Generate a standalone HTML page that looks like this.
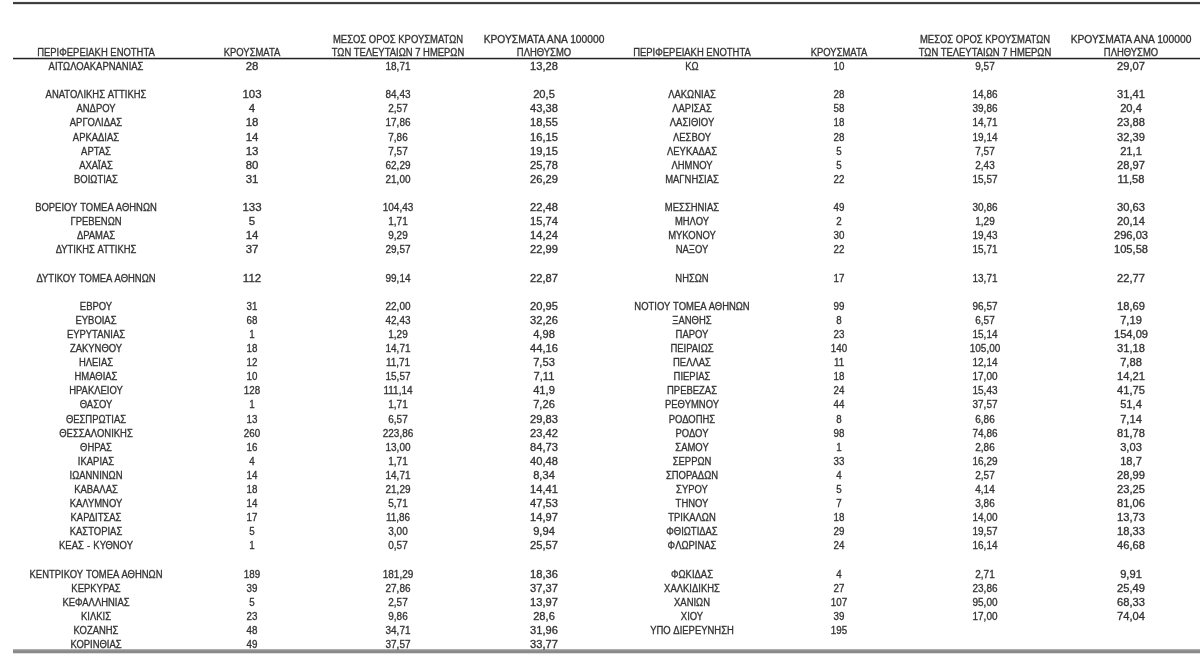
<!DOCTYPE html>
<html><head><meta charset="utf-8"><style>
html,body{margin:0;padding:0;background:#fff;}
#w{position:absolute;left:0;top:0;width:1200px;height:668px;filter:grayscale(1);}
body{width:1200px;height:668px;position:relative;overflow:hidden;font-family:"Liberation Sans",sans-serif;}
.c{position:absolute;white-space:nowrap;font-size:10.0px;line-height:12px;height:12px;color:#333;-webkit-text-stroke:0.3px #333;transform:translateX(-50%) scaleX(0.945);transform-origin:50% 0;}
.n4{transform:translateX(-50%) scaleX(1.113);}
.n3{transform:translateX(-50%) scaleX(0.9975);}
.n2a{transform:translateX(-50%) scaleX(1.1445);}
.n2c{transform:translateX(-50%) scaleX(0.9765);}
.h4{transform:translateX(-50%) scaleX(1.025);}
.nm{word-spacing:0.6px;}
.ln{position:absolute;}
</style></head><body><div id="w">
<div class="ln" style="left:13px;top:1px;width:1187px;height:4px;background:linear-gradient(#f0f0f0 0,#f0f0f0 1px,#454545 1px,#454545 2px,#3a3a3a 2px,#3a3a3a 3px,#e0e0e0 3px)"></div>
<div class="ln" style="left:13px;top:57px;width:1187px;height:3px;background:linear-gradient(#d0d0d0 0,#d0d0d0 1px,#222 1px,#222 2px,#c0c0c0 2px)"></div>
<div class="ln" style="left:13px;top:649px;width:1187px;height:5px;background:linear-gradient(#adadad 0,#adadad 1px,#949494 1px,#949494 2px,#888 2px,#888 3px,#8c8c8c 3px,#8c8c8c 4px,#dcdcdc 4px)"></div>
<div class="c nm" style="left:96.30px;top:61.05px">ΑΙΤΩΛΟΑΚΑΡΝΑΝΙΑΣ</div>
<div class="c n2a" style="left:252.40px;top:61.05px">28</div>
<div class="c n3" style="left:398.10px;top:61.05px">18,71</div>
<div class="c n4" style="left:544.00px;top:61.05px">13,28</div>
<div class="c nm" style="left:96.30px;top:89.25px">ΑΝΑΤΟΛΙΚΗΣ ΑΤΤΙΚΗΣ</div>
<div class="c n2a" style="left:252.40px;top:89.25px">103</div>
<div class="c n3" style="left:398.10px;top:89.25px">84,43</div>
<div class="c n4" style="left:544.00px;top:89.25px">20,5</div>
<div class="c nm" style="left:96.30px;top:103.35px">ΑΝΔΡΟΥ</div>
<div class="c n2a" style="left:252.40px;top:103.35px">4</div>
<div class="c n3" style="left:398.10px;top:103.35px">2,57</div>
<div class="c n4" style="left:544.00px;top:103.35px">43,38</div>
<div class="c nm" style="left:96.30px;top:117.45px">ΑΡΓΟΛΙΔΑΣ</div>
<div class="c n2a" style="left:252.40px;top:117.45px">18</div>
<div class="c n3" style="left:398.10px;top:117.45px">17,86</div>
<div class="c n4" style="left:544.00px;top:117.45px">18,55</div>
<div class="c nm" style="left:96.30px;top:131.55px">ΑΡΚΑΔΙΑΣ</div>
<div class="c n2a" style="left:252.40px;top:131.55px">14</div>
<div class="c n3" style="left:398.10px;top:131.55px">7,86</div>
<div class="c n4" style="left:544.00px;top:131.55px">16,15</div>
<div class="c nm" style="left:96.30px;top:145.65px">ΑΡΤΑΣ</div>
<div class="c n2a" style="left:252.40px;top:145.65px">13</div>
<div class="c n3" style="left:398.10px;top:145.65px">7,57</div>
<div class="c n4" style="left:544.00px;top:145.65px">19,15</div>
<div class="c nm" style="left:96.30px;top:159.75px">ΑΧΑΪΑΣ</div>
<div class="c n2a" style="left:252.40px;top:159.75px">80</div>
<div class="c n3" style="left:398.10px;top:159.75px">62,29</div>
<div class="c n4" style="left:544.00px;top:159.75px">25,78</div>
<div class="c nm" style="left:96.30px;top:173.85px">ΒΟΙΩΤΙΑΣ</div>
<div class="c n2a" style="left:252.40px;top:173.85px">31</div>
<div class="c n3" style="left:398.10px;top:173.85px">21,00</div>
<div class="c n4" style="left:544.00px;top:173.85px">26,29</div>
<div class="c nm" style="left:96.30px;top:202.05px">ΒΟΡΕΙΟΥ ΤΟΜΕΑ ΑΘΗΝΩΝ</div>
<div class="c n2a" style="left:252.40px;top:202.05px">133</div>
<div class="c n3" style="left:398.10px;top:202.05px">104,43</div>
<div class="c n4" style="left:544.00px;top:202.05px">22,48</div>
<div class="c nm" style="left:96.30px;top:216.15px">ΓΡΕΒΕΝΩΝ</div>
<div class="c n2a" style="left:252.40px;top:216.15px">5</div>
<div class="c n3" style="left:398.10px;top:216.15px">1,71</div>
<div class="c n4" style="left:544.00px;top:216.15px">15,74</div>
<div class="c nm" style="left:96.30px;top:230.25px">ΔΡΑΜΑΣ</div>
<div class="c n2a" style="left:252.40px;top:230.25px">14</div>
<div class="c n3" style="left:398.10px;top:230.25px">9,29</div>
<div class="c n4" style="left:544.00px;top:230.25px">14,24</div>
<div class="c nm" style="left:96.30px;top:244.35px">ΔΥΤΙΚΗΣ ΑΤΤΙΚΗΣ</div>
<div class="c n2a" style="left:252.40px;top:244.35px">37</div>
<div class="c n3" style="left:398.10px;top:244.35px">29,57</div>
<div class="c n4" style="left:544.00px;top:244.35px">22,99</div>
<div class="c nm" style="left:96.30px;top:272.55px">ΔΥΤΙΚΟΥ ΤΟΜΕΑ ΑΘΗΝΩΝ</div>
<div class="c n2a" style="left:252.40px;top:272.55px">112</div>
<div class="c n3" style="left:398.10px;top:272.55px">99,14</div>
<div class="c n4" style="left:544.00px;top:272.55px">22,87</div>
<div class="c nm" style="left:96.30px;top:300.75px">ΕΒΡΟΥ</div>
<div class="c n2c" style="left:252.40px;top:300.75px">31</div>
<div class="c n3" style="left:398.10px;top:300.75px">22,00</div>
<div class="c n4" style="left:544.00px;top:300.75px">20,95</div>
<div class="c nm" style="left:96.30px;top:314.85px">ΕΥΒΟΙΑΣ</div>
<div class="c n2c" style="left:252.40px;top:314.85px">68</div>
<div class="c n3" style="left:398.10px;top:314.85px">42,43</div>
<div class="c n4" style="left:544.00px;top:314.85px">32,26</div>
<div class="c nm" style="left:96.30px;top:328.95px">ΕΥΡΥΤΑΝΙΑΣ</div>
<div class="c n2c" style="left:252.40px;top:328.95px">1</div>
<div class="c n3" style="left:398.10px;top:328.95px">1,29</div>
<div class="c n4" style="left:544.00px;top:328.95px">4,98</div>
<div class="c nm" style="left:96.30px;top:343.05px">ΖΑΚΥΝΘΟΥ</div>
<div class="c n2c" style="left:252.40px;top:343.05px">18</div>
<div class="c n3" style="left:398.10px;top:343.05px">14,71</div>
<div class="c n4" style="left:544.00px;top:343.05px">44,16</div>
<div class="c nm" style="left:96.30px;top:357.15px">ΗΛΕΙΑΣ</div>
<div class="c n2c" style="left:252.40px;top:357.15px">12</div>
<div class="c n3" style="left:398.10px;top:357.15px">11,71</div>
<div class="c n4" style="left:544.00px;top:357.15px">7,53</div>
<div class="c nm" style="left:96.30px;top:371.25px">ΗΜΑΘΙΑΣ</div>
<div class="c n2c" style="left:252.40px;top:371.25px">10</div>
<div class="c n3" style="left:398.10px;top:371.25px">15,57</div>
<div class="c n4" style="left:544.00px;top:371.25px">7,11</div>
<div class="c nm" style="left:96.30px;top:385.35px">ΗΡΑΚΛΕΙΟΥ</div>
<div class="c n2c" style="left:252.40px;top:385.35px">128</div>
<div class="c n3" style="left:398.10px;top:385.35px">111,14</div>
<div class="c n4" style="left:544.00px;top:385.35px">41,9</div>
<div class="c nm" style="left:96.30px;top:399.45px">ΘΑΣΟΥ</div>
<div class="c n2c" style="left:252.40px;top:399.45px">1</div>
<div class="c n3" style="left:398.10px;top:399.45px">1,71</div>
<div class="c n4" style="left:544.00px;top:399.45px">7,26</div>
<div class="c nm" style="left:96.30px;top:413.55px">ΘΕΣΠΡΩΤΙΑΣ</div>
<div class="c n2c" style="left:252.40px;top:413.55px">13</div>
<div class="c n3" style="left:398.10px;top:413.55px">6,57</div>
<div class="c n4" style="left:544.00px;top:413.55px">29,83</div>
<div class="c nm" style="left:96.30px;top:427.65px">ΘΕΣΣΑΛΟΝΙΚΗΣ</div>
<div class="c n2c" style="left:252.40px;top:427.65px">260</div>
<div class="c n3" style="left:398.10px;top:427.65px">223,86</div>
<div class="c n4" style="left:544.00px;top:427.65px">23,42</div>
<div class="c nm" style="left:96.30px;top:441.75px">ΘΗΡΑΣ</div>
<div class="c n2c" style="left:252.40px;top:441.75px">16</div>
<div class="c n3" style="left:398.10px;top:441.75px">13,00</div>
<div class="c n4" style="left:544.00px;top:441.75px">84,73</div>
<div class="c nm" style="left:96.30px;top:455.85px">ΙΚΑΡΙΑΣ</div>
<div class="c n2c" style="left:252.40px;top:455.85px">4</div>
<div class="c n3" style="left:398.10px;top:455.85px">1,71</div>
<div class="c n4" style="left:544.00px;top:455.85px">40,48</div>
<div class="c nm" style="left:96.30px;top:469.95px">ΙΩΑΝΝΙΝΩΝ</div>
<div class="c n2c" style="left:252.40px;top:469.95px">14</div>
<div class="c n3" style="left:398.10px;top:469.95px">14,71</div>
<div class="c n4" style="left:544.00px;top:469.95px">8,34</div>
<div class="c nm" style="left:96.30px;top:484.05px">ΚΑΒΑΛΑΣ</div>
<div class="c n2c" style="left:252.40px;top:484.05px">18</div>
<div class="c n3" style="left:398.10px;top:484.05px">21,29</div>
<div class="c n4" style="left:544.00px;top:484.05px">14,41</div>
<div class="c nm" style="left:96.30px;top:498.15px">ΚΑΛΥΜΝΟΥ</div>
<div class="c n2c" style="left:252.40px;top:498.15px">14</div>
<div class="c n3" style="left:398.10px;top:498.15px">5,71</div>
<div class="c n4" style="left:544.00px;top:498.15px">47,53</div>
<div class="c nm" style="left:96.30px;top:512.25px">ΚΑΡΔΙΤΣΑΣ</div>
<div class="c n2c" style="left:252.40px;top:512.25px">17</div>
<div class="c n3" style="left:398.10px;top:512.25px">11,86</div>
<div class="c n4" style="left:544.00px;top:512.25px">14,97</div>
<div class="c nm" style="left:96.30px;top:526.35px">ΚΑΣΤΟΡΙΑΣ</div>
<div class="c n2c" style="left:252.40px;top:526.35px">5</div>
<div class="c n3" style="left:398.10px;top:526.35px">3,00</div>
<div class="c n4" style="left:544.00px;top:526.35px">9,94</div>
<div class="c nm" style="left:96.30px;top:540.45px">ΚΕΑΣ - ΚΥΘΝΟΥ</div>
<div class="c n2c" style="left:252.40px;top:540.45px">1</div>
<div class="c n3" style="left:398.10px;top:540.45px">0,57</div>
<div class="c n4" style="left:544.00px;top:540.45px">25,57</div>
<div class="c nm" style="left:96.30px;top:568.65px">ΚΕΝΤΡΙΚΟΥ ΤΟΜΕΑ ΑΘΗΝΩΝ</div>
<div class="c n2c" style="left:252.40px;top:568.65px">189</div>
<div class="c n3" style="left:398.10px;top:568.65px">181,29</div>
<div class="c n4" style="left:544.00px;top:568.65px">18,36</div>
<div class="c nm" style="left:96.30px;top:582.75px">ΚΕΡΚΥΡΑΣ</div>
<div class="c n2c" style="left:252.40px;top:582.75px">39</div>
<div class="c n3" style="left:398.10px;top:582.75px">27,86</div>
<div class="c n4" style="left:544.00px;top:582.75px">37,37</div>
<div class="c nm" style="left:96.30px;top:596.85px">ΚΕΦΑΛΛΗΝΙΑΣ</div>
<div class="c n2c" style="left:252.40px;top:596.85px">5</div>
<div class="c n3" style="left:398.10px;top:596.85px">2,57</div>
<div class="c n4" style="left:544.00px;top:596.85px">13,97</div>
<div class="c nm" style="left:96.30px;top:610.95px">ΚΙΛΚΙΣ</div>
<div class="c n2c" style="left:252.40px;top:610.95px">23</div>
<div class="c n3" style="left:398.10px;top:610.95px">9,86</div>
<div class="c n4" style="left:544.00px;top:610.95px">28,6</div>
<div class="c nm" style="left:96.30px;top:625.05px">ΚΟΖΑΝΗΣ</div>
<div class="c n2c" style="left:252.40px;top:625.05px">48</div>
<div class="c n3" style="left:398.10px;top:625.05px">34,71</div>
<div class="c n4" style="left:544.00px;top:625.05px">31,96</div>
<div class="c nm" style="left:96.30px;top:639.15px">ΚΟΡΙΝΘΙΑΣ</div>
<div class="c n2c" style="left:252.40px;top:639.15px">49</div>
<div class="c n3" style="left:398.10px;top:639.15px">37,57</div>
<div class="c n4" style="left:544.00px;top:639.15px">33,77</div>
<div class="c nm" style="left:691.50px;top:61.05px">ΚΩ</div>
<div class="c n2c" style="left:838.70px;top:61.05px">10</div>
<div class="c n3" style="left:985.00px;top:61.05px">9,57</div>
<div class="c n4" style="left:1130.80px;top:61.05px">29,07</div>
<div class="c nm" style="left:691.50px;top:89.25px">ΛΑΚΩΝΙΑΣ</div>
<div class="c n2c" style="left:838.70px;top:89.25px">28</div>
<div class="c n3" style="left:985.00px;top:89.25px">14,86</div>
<div class="c n4" style="left:1130.80px;top:89.25px">31,41</div>
<div class="c nm" style="left:691.50px;top:103.35px">ΛΑΡΙΣΑΣ</div>
<div class="c n2c" style="left:838.70px;top:103.35px">58</div>
<div class="c n3" style="left:985.00px;top:103.35px">39,86</div>
<div class="c n4" style="left:1130.80px;top:103.35px">20,4</div>
<div class="c nm" style="left:691.50px;top:117.45px">ΛΑΣΙΘΙΟΥ</div>
<div class="c n2c" style="left:838.70px;top:117.45px">18</div>
<div class="c n3" style="left:985.00px;top:117.45px">14,71</div>
<div class="c n4" style="left:1130.80px;top:117.45px">23,88</div>
<div class="c nm" style="left:691.50px;top:131.55px">ΛΕΣΒΟΥ</div>
<div class="c n2c" style="left:838.70px;top:131.55px">28</div>
<div class="c n3" style="left:985.00px;top:131.55px">19,14</div>
<div class="c n4" style="left:1130.80px;top:131.55px">32,39</div>
<div class="c nm" style="left:691.50px;top:145.65px">ΛΕΥΚΑΔΑΣ</div>
<div class="c n2c" style="left:838.70px;top:145.65px">5</div>
<div class="c n3" style="left:985.00px;top:145.65px">7,57</div>
<div class="c n4" style="left:1130.80px;top:145.65px">21,1</div>
<div class="c nm" style="left:691.50px;top:159.75px">ΛΗΜΝΟΥ</div>
<div class="c n2c" style="left:838.70px;top:159.75px">5</div>
<div class="c n3" style="left:985.00px;top:159.75px">2,43</div>
<div class="c n4" style="left:1130.80px;top:159.75px">28,97</div>
<div class="c nm" style="left:691.50px;top:173.85px">ΜΑΓΝΗΣΙΑΣ</div>
<div class="c n2c" style="left:838.70px;top:173.85px">22</div>
<div class="c n3" style="left:985.00px;top:173.85px">15,57</div>
<div class="c n4" style="left:1130.80px;top:173.85px">11,58</div>
<div class="c nm" style="left:691.50px;top:202.05px">ΜΕΣΣΗΝΙΑΣ</div>
<div class="c n2c" style="left:838.70px;top:202.05px">49</div>
<div class="c n3" style="left:985.00px;top:202.05px">30,86</div>
<div class="c n4" style="left:1130.80px;top:202.05px">30,63</div>
<div class="c nm" style="left:691.50px;top:216.15px">ΜΗΛΟΥ</div>
<div class="c n2c" style="left:838.70px;top:216.15px">2</div>
<div class="c n3" style="left:985.00px;top:216.15px">1,29</div>
<div class="c n4" style="left:1130.80px;top:216.15px">20,14</div>
<div class="c nm" style="left:691.50px;top:230.25px">ΜΥΚΟΝΟΥ</div>
<div class="c n2c" style="left:838.70px;top:230.25px">30</div>
<div class="c n3" style="left:985.00px;top:230.25px">19,43</div>
<div class="c n4" style="left:1130.80px;top:230.25px">296,03</div>
<div class="c nm" style="left:691.50px;top:244.35px">ΝΑΞΟΥ</div>
<div class="c n2c" style="left:838.70px;top:244.35px">22</div>
<div class="c n3" style="left:985.00px;top:244.35px">15,71</div>
<div class="c n4" style="left:1130.80px;top:244.35px">105,58</div>
<div class="c nm" style="left:691.50px;top:272.55px">ΝΗΣΩΝ</div>
<div class="c n2c" style="left:838.70px;top:272.55px">17</div>
<div class="c n3" style="left:985.00px;top:272.55px">13,71</div>
<div class="c n4" style="left:1130.80px;top:272.55px">22,77</div>
<div class="c nm" style="left:691.50px;top:300.75px">ΝΟΤΙΟΥ ΤΟΜΕΑ ΑΘΗΝΩΝ</div>
<div class="c n2c" style="left:838.70px;top:300.75px">99</div>
<div class="c n3" style="left:985.00px;top:300.75px">96,57</div>
<div class="c n4" style="left:1130.80px;top:300.75px">18,69</div>
<div class="c nm" style="left:691.50px;top:314.85px">ΞΑΝΘΗΣ</div>
<div class="c n2c" style="left:838.70px;top:314.85px">8</div>
<div class="c n3" style="left:985.00px;top:314.85px">6,57</div>
<div class="c n4" style="left:1130.80px;top:314.85px">7,19</div>
<div class="c nm" style="left:691.50px;top:328.95px">ΠΑΡΟΥ</div>
<div class="c n2c" style="left:838.70px;top:328.95px">23</div>
<div class="c n3" style="left:985.00px;top:328.95px">15,14</div>
<div class="c n4" style="left:1130.80px;top:328.95px">154,09</div>
<div class="c nm" style="left:691.50px;top:343.05px">ΠΕΙΡΑΙΩΣ</div>
<div class="c n2c" style="left:838.70px;top:343.05px">140</div>
<div class="c n3" style="left:985.00px;top:343.05px">105,00</div>
<div class="c n4" style="left:1130.80px;top:343.05px">31,18</div>
<div class="c nm" style="left:691.50px;top:357.15px">ΠΕΛΛΑΣ</div>
<div class="c n2c" style="left:838.70px;top:357.15px">11</div>
<div class="c n3" style="left:985.00px;top:357.15px">12,14</div>
<div class="c n4" style="left:1130.80px;top:357.15px">7,88</div>
<div class="c nm" style="left:691.50px;top:371.25px">ΠΙΕΡΙΑΣ</div>
<div class="c n2c" style="left:838.70px;top:371.25px">18</div>
<div class="c n3" style="left:985.00px;top:371.25px">17,00</div>
<div class="c n4" style="left:1130.80px;top:371.25px">14,21</div>
<div class="c nm" style="left:691.50px;top:385.35px">ΠΡΕΒΕΖΑΣ</div>
<div class="c n2c" style="left:838.70px;top:385.35px">24</div>
<div class="c n3" style="left:985.00px;top:385.35px">15,43</div>
<div class="c n4" style="left:1130.80px;top:385.35px">41,75</div>
<div class="c nm" style="left:691.50px;top:399.45px">ΡΕΘΥΜΝΟΥ</div>
<div class="c n2c" style="left:838.70px;top:399.45px">44</div>
<div class="c n3" style="left:985.00px;top:399.45px">37,57</div>
<div class="c n4" style="left:1130.80px;top:399.45px">51,4</div>
<div class="c nm" style="left:691.50px;top:413.55px">ΡΟΔΟΠΗΣ</div>
<div class="c n2c" style="left:838.70px;top:413.55px">8</div>
<div class="c n3" style="left:985.00px;top:413.55px">6,86</div>
<div class="c n4" style="left:1130.80px;top:413.55px">7,14</div>
<div class="c nm" style="left:691.50px;top:427.65px">ΡΟΔΟΥ</div>
<div class="c n2c" style="left:838.70px;top:427.65px">98</div>
<div class="c n3" style="left:985.00px;top:427.65px">74,86</div>
<div class="c n4" style="left:1130.80px;top:427.65px">81,78</div>
<div class="c nm" style="left:691.50px;top:441.75px">ΣΑΜΟΥ</div>
<div class="c n2c" style="left:838.70px;top:441.75px">1</div>
<div class="c n3" style="left:985.00px;top:441.75px">2,86</div>
<div class="c n4" style="left:1130.80px;top:441.75px">3,03</div>
<div class="c nm" style="left:691.50px;top:455.85px">ΣΕΡΡΩΝ</div>
<div class="c n2c" style="left:838.70px;top:455.85px">33</div>
<div class="c n3" style="left:985.00px;top:455.85px">16,29</div>
<div class="c n4" style="left:1130.80px;top:455.85px">18,7</div>
<div class="c nm" style="left:691.50px;top:469.95px">ΣΠΟΡΑΔΩΝ</div>
<div class="c n2c" style="left:838.70px;top:469.95px">4</div>
<div class="c n3" style="left:985.00px;top:469.95px">2,57</div>
<div class="c n4" style="left:1130.80px;top:469.95px">28,99</div>
<div class="c nm" style="left:691.50px;top:484.05px">ΣΥΡΟΥ</div>
<div class="c n2c" style="left:838.70px;top:484.05px">5</div>
<div class="c n3" style="left:985.00px;top:484.05px">4,14</div>
<div class="c n4" style="left:1130.80px;top:484.05px">23,25</div>
<div class="c nm" style="left:691.50px;top:498.15px">ΤΗΝΟΥ</div>
<div class="c n2c" style="left:838.70px;top:498.15px">7</div>
<div class="c n3" style="left:985.00px;top:498.15px">3,86</div>
<div class="c n4" style="left:1130.80px;top:498.15px">81,06</div>
<div class="c nm" style="left:691.50px;top:512.25px">ΤΡΙΚΑΛΩΝ</div>
<div class="c n2c" style="left:838.70px;top:512.25px">18</div>
<div class="c n3" style="left:985.00px;top:512.25px">14,00</div>
<div class="c n4" style="left:1130.80px;top:512.25px">13,73</div>
<div class="c nm" style="left:691.50px;top:526.35px">ΦΘΙΩΤΙΔΑΣ</div>
<div class="c n2c" style="left:838.70px;top:526.35px">29</div>
<div class="c n3" style="left:985.00px;top:526.35px">19,57</div>
<div class="c n4" style="left:1130.80px;top:526.35px">18,33</div>
<div class="c nm" style="left:691.50px;top:540.45px">ΦΛΩΡΙΝΑΣ</div>
<div class="c n2c" style="left:838.70px;top:540.45px">24</div>
<div class="c n3" style="left:985.00px;top:540.45px">16,14</div>
<div class="c n4" style="left:1130.80px;top:540.45px">46,68</div>
<div class="c nm" style="left:691.50px;top:568.65px">ΦΩΚΙΔΑΣ</div>
<div class="c n2c" style="left:838.70px;top:568.65px">4</div>
<div class="c n3" style="left:985.00px;top:568.65px">2,71</div>
<div class="c n4" style="left:1130.80px;top:568.65px">9,91</div>
<div class="c nm" style="left:691.50px;top:582.75px">ΧΑΛΚΙΔΙΚΗΣ</div>
<div class="c n2c" style="left:838.70px;top:582.75px">27</div>
<div class="c n3" style="left:985.00px;top:582.75px">23,86</div>
<div class="c n4" style="left:1130.80px;top:582.75px">25,49</div>
<div class="c nm" style="left:691.50px;top:596.85px">ΧΑΝΙΩΝ</div>
<div class="c n2c" style="left:838.70px;top:596.85px">107</div>
<div class="c n3" style="left:985.00px;top:596.85px">95,00</div>
<div class="c n4" style="left:1130.80px;top:596.85px">68,33</div>
<div class="c nm" style="left:691.50px;top:610.95px">ΧΙΟΥ</div>
<div class="c n2c" style="left:838.70px;top:610.95px">39</div>
<div class="c n3" style="left:985.00px;top:610.95px">17,00</div>
<div class="c n4" style="left:1130.80px;top:610.95px">74,04</div>
<div class="c nm" style="left:691.50px;top:625.05px">ΥΠΟ ΔΙΕΡΕΥΝΗΣΗ</div>
<div class="c n2c" style="left:838.70px;top:625.05px">195</div>
<div class="c" style="left:96.30px;top:47.10px">ΠΕΡΙΦΕΡΕΙΑΚΗ ΕΝΟΤΗΤΑ</div>
<div class="c" style="left:252.40px;top:47.10px">ΚΡΟΥΣΜΑΤΑ</div>
<div class="c" style="left:398.10px;top:33.50px">ΜΕΣΟΣ ΟΡΟΣ ΚΡΟΥΣΜΑΤΩΝ</div>
<div class="c" style="left:398.10px;top:47.10px">ΤΩΝ ΤΕΛΕΥΤΑΙΩΝ 7 ΗΜΕΡΩΝ</div>
<div class="c h4" style="left:544.00px;top:33.50px">ΚΡΟΥΣΜΑΤΑ ΑΝΑ 100000</div>
<div class="c" style="left:544.00px;top:47.10px">ΠΛΗΘΥΣΜΟ</div>
<div class="c" style="left:691.50px;top:47.10px">ΠΕΡΙΦΕΡΕΙΑΚΗ ΕΝΟΤΗΤΑ</div>
<div class="c" style="left:838.70px;top:47.10px">ΚΡΟΥΣΜΑΤΑ</div>
<div class="c" style="left:985.00px;top:33.50px">ΜΕΣΟΣ ΟΡΟΣ ΚΡΟΥΣΜΑΤΩΝ</div>
<div class="c" style="left:985.00px;top:47.10px">ΤΩΝ ΤΕΛΕΥΤΑΙΩΝ 7 ΗΜΕΡΩΝ</div>
<div class="c h4" style="left:1130.80px;top:33.50px">ΚΡΟΥΣΜΑΤΑ ΑΝΑ 100000</div>
<div class="c" style="left:1130.80px;top:47.10px">ΠΛΗΘΥΣΜΟ</div>
</div></body></html>
